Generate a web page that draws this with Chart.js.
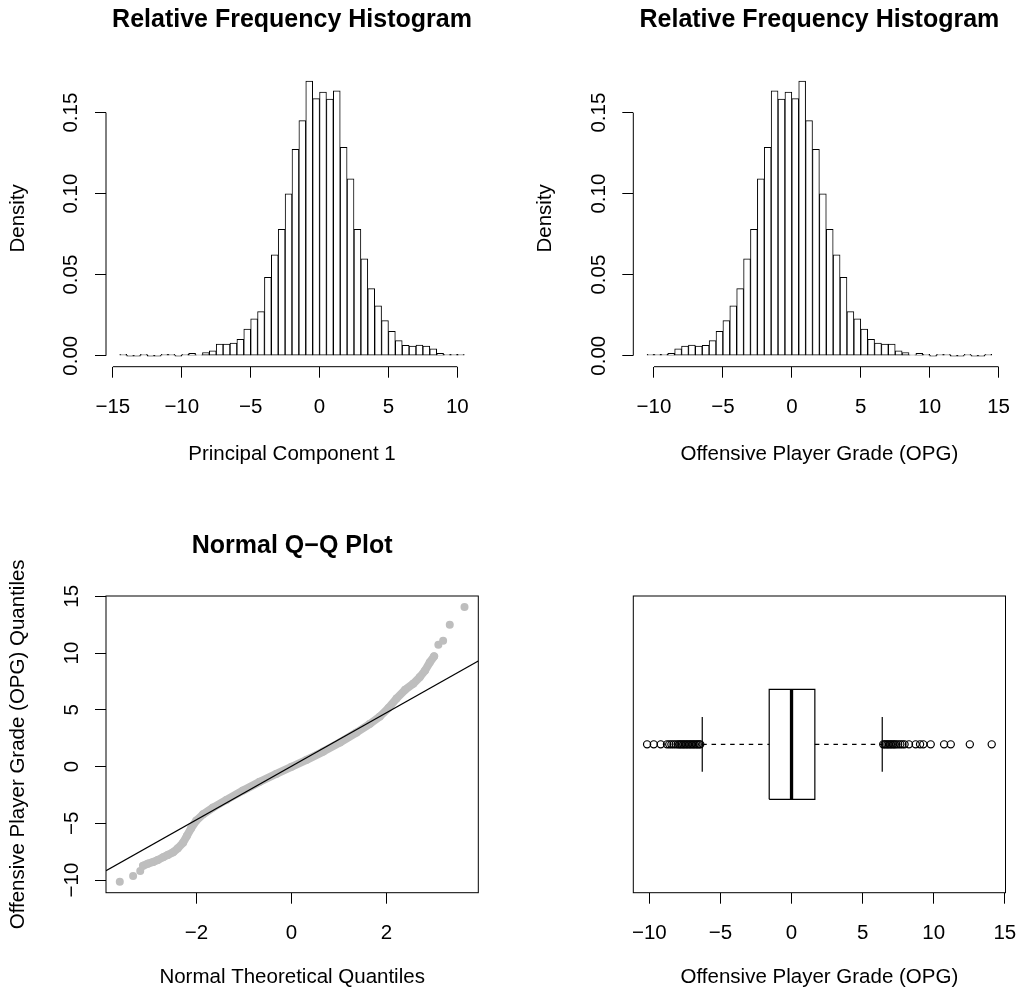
<!DOCTYPE html>
<html>
<head>
<meta charset="utf-8">
<script src="https://cdn.jsdelivr.net/npm/chart.js@4.4.1/dist/chart.umd.min.js"></script>
<style>
  html, body { margin: 0; padding: 0; background: #fff; }
  body { width: 1018px; height: 997px; position: relative; overflow: hidden; }
  canvas { position: absolute; }
</style>
</head>
<body>
<canvas id="pc1Hist" width="509" height="498" style="left:0;top:0"></canvas>
<canvas id="opgHist" width="509" height="498" style="left:509px;top:0"></canvas>
<canvas id="opgQQ" width="509" height="499" style="left:0;top:498px"></canvas>
<canvas id="opgBox" width="509" height="499" style="left:509px;top:498px"></canvas>
<script>
// histogram bins (width 0.5)
const binWidth = 0.5;
const pc1Start = -14.5;
const pc1Density = [
  0.0008, 0, 0, 0.0008, 0, 0, 0.0008, 0.0008, 0, 0.0008,
  0.0014, 0.0004, 0.002, 0.003, 0.0072, 0.0072, 0.0078, 0.0101, 0.0165, 0.0227,
  0.0272, 0.0484, 0.0622, 0.078, 0.0999, 0.1273, 0.145, 0.1695, 0.1586, 0.1627,
  0.1584, 0.1634, 0.1285, 0.1092, 0.078, 0.0597, 0.0414, 0.0307, 0.0216, 0.015,
  0.0093, 0.0064, 0.006, 0.0066, 0.006, 0.0043, 0.0014, 0.0008, 0.0008, 0.0008
];
const opgStart = -10.5;
const opgDensity = [
  0.0008, 0.0008, 0.0008, 0.0014, 0.0043, 0.006, 0.0066, 0.006, 0.0064, 0.0093,
  0.015, 0.0216, 0.0307, 0.0414, 0.0597, 0.078, 0.1092, 0.1285, 0.1634, 0.1584,
  0.1627, 0.1586, 0.1695, 0.145, 0.1273, 0.0999, 0.078, 0.0622, 0.0484, 0.0272,
  0.0227, 0.0165, 0.0101, 0.0078, 0.0072, 0.0072, 0.003, 0.002, 0.0004, 0.0014,
  0.0008, 0, 0.0008, 0.0008, 0, 0, 0.0008, 0, 0, 0.0008
];

// normal Q-Q points (dense middle part and the separate tail points)
const qqTheoretical = [-3.12, -3.02, -2.91, -2.81, -2.70, -2.60, -2.49, -2.39, -2.28, -2.20, -2.11, -2.00,
  -1.86, -1.65, -1.37, -1.02, -0.67, -0.32, 0.00, 0.32, 0.67, 1.02, 1.37, 1.65, 1.86, 2.04, 2.21, 2.39,
  2.56, 2.70, 2.81, 2.91, 3.00];
const qqSample = [-8.74, -8.56, -8.41, -8.24, -8.00, -7.79, -7.56, -7.21, -6.71, -6.12, -5.44, -4.76,
  -4.21, -3.62, -2.94, -2.12, -1.35, -0.65, -0.03, 0.59, 1.32, 2.12, 3.00, 3.76, 4.41, 5.15, 6.00, 6.76,
  7.29, 7.88, 8.47, 9.18, 9.71];
const qqTailTheoretical = [-3.61, -3.33, -3.18, 3.09, 3.19, 3.33, 3.64];
const qqTailSample = [-10.15, -9.65, -9.21, 10.74, 11.09, 12.5, 14.06];
const qqIntercept = 0.03;
const qqSlope = 2.36;

// boxplot: lower whisker, Q1, median, Q3, upper whisker
const opgBoxStats = [-6.28, -1.57, 0.0, 1.64, 6.38];
const opgOutliers = [-10.16, -9.69, -9.2, -8.76, -8.6, -8.45, -8.3, -8.15, -8.0, -7.9, -7.8, -7.7,
  -7.6, -7.5, -7.4, -7.3, -7.2, -7.1, -7.0, -6.9, -6.8, -6.7, -6.6, -6.5, -6.42,
  6.45, 6.55, 6.65, 6.75, 6.85, 6.95, 7.05, 7.15, 7.25, 7.35, 7.5, 7.65, 7.8, 7.95,
  8.26, 8.73, 9.04, 9.27, 9.79, 10.73, 11.2, 12.54, 14.08];

// tick labels
const pc1Ticks = [-15, -10, -5, 0, 5, 10];
const opgTicks = [-10, -5, 0, 5, 10, 15];
const densityTicks = [0, 0.05, 0.10, 0.15];
const normTicks = [-2, 0, 2];
const qqYTicks = [-10, -5, 0, 5, 10, 15];

Chart.defaults.font.family = 'Liberation Sans';
Chart.defaults.font.size = 20.5;
Chart.defaults.color = '#000';
Chart.defaults.animation = false;
Chart.defaults.plugins.legend.display = false;
Chart.defaults.plugins.tooltip.enabled = false;

const minus = v => String(v).replace('-', '\u2212');
const rRange = (lo, hi) => { const d = (hi - lo) * 0.04; return [lo - d, hi + d]; };

// R style axes: line only from first to last tick, or a full box
const rAxes = {
  id: 'rAxes',
  afterDraw(chart, args, opts) {
    const {ctx, chartArea: a} = chart;
    ctx.save();
    ctx.strokeStyle = '#000';
    ctx.lineWidth = 1;
    if (opts.box) ctx.strokeRect(a.left, a.top, a.right - a.left, a.bottom - a.top);
    (opts.axes || []).forEach(id => {
      const s = chart.scales[id];
      const p0 = s.getPixelForValue(s.ticks[0].value);
      const p1 = s.getPixelForValue(s.ticks[s.ticks.length - 1].value);
      ctx.beginPath();
      if (s.isHorizontal()) { ctx.moveTo(p0, a.bottom); ctx.lineTo(p1, a.bottom); }
      else { ctx.moveTo(a.left, p0); ctx.lineTo(a.left, p1); }
      ctx.stroke();
    });
    ctx.restore();
  }
};

const tickGrid = {display: true, drawOnChartArea: false, drawTicks: true, tickLength: 11,
  tickColor: '#000', tickWidth: 1, offset: false};

function xAxis(range, ticks, title, height, titlePad) {
  return {
    type: 'linear', position: 'bottom', min: range[0], max: range[1], bounds: 'data', offset: false,
    afterBuildTicks: s => { s.ticks = ticks.map(v => ({value: v})); },
    afterFit: s => { s.height = height; s.paddingLeft = 0; s.paddingRight = 0; },
    border: {display: false},
    grid: tickGrid,
    ticks: {autoSkip: false, minRotation: 0, maxRotation: 0, padding: 17.3, callback: v => minus(v)},
    title: {display: true, text: title, padding: {top: 0, bottom: titlePad}}
  };
}

function yAxis(range, ticks, fmt, title, width, tickPad, titlePad) {
  return {
    type: 'linear', position: 'left', min: range[0], max: range[1], bounds: 'data',
    afterBuildTicks: s => { s.ticks = ticks.map(v => ({value: v})); },
    afterFit: s => { s.width = width; s.paddingTop = 0; s.paddingBottom = 0; },
    border: {display: false},
    grid: tickGrid,
    ticks: {autoSkip: false, minRotation: 90, maxRotation: 90, crossAlign: 'center', padding: tickPad, callback: fmt},
    title: {display: true, text: title, padding: {top: titlePad, bottom: 0}}
  };
}

function mainTitle(text, top, bottom) {
  return {display: true, text: text, fullSize: false, color: '#000',
    font: {size: 25, weight: 'bold'}, padding: {top: top, bottom: bottom}};
}

function histogram(id, start, density, xTicks, xLabel, left, right) {
  const breaksRange = rRange(start, start + binWidth * density.length);
  new Chart(id, {
    type: 'bar',
    data: {
      datasets: [{
        data: density.map((d, i) => ({x: start + binWidth * (i + 0.5), y: d})),
        backgroundColor: '#fff', borderColor: '#000', borderWidth: 1, borderSkipped: false,
        barPercentage: 1, categoryPercentage: 1, minBarLength: 1
      }]
    },
    options: {
      responsive: false, devicePixelRatio: 1,
      layout: {padding: {left: 0, right: 509 - right, top: 0, bottom: 0}},
      plugins: {title: mainTitle('Relative Frequency Histogram', 5, 35), rAxes: {axes: ['x', 'y']}},
      scales: {
        x: xAxis(breaksRange, xTicks, xLabel, 498 - 366.7, 31),
        y: yAxis(rRange(0, Math.max(...density)), densityTicks, v => v.toFixed(2), 'Density', left, 3.4, left - 100)
      }
    },
    plugins: [rAxes]
  });
}

histogram('pc1Hist', pc1Start, pc1Density, pc1Ticks, 'Principal Component 1', 106, 478);
histogram('opgHist', opgStart, opgDensity, opgTicks, 'Offensive Player Grade (OPG)', 124.3, 496.5);

// Normal Q-Q plot
const qqX = rRange(Math.min(...qqTailTheoretical), Math.max(...qqTailTheoretical));
const qqY = rRange(Math.min(...qqTailSample), Math.max(...qqTailSample));
new Chart('opgQQ', {
  type: 'scatter',
  data: {
    datasets: [
      {
        data: qqX.map(x => ({x: x, y: qqIntercept + qqSlope * x})),
        showLine: true, borderColor: '#000', borderWidth: 1.3, pointRadius: 0
      },
      {
        data: qqTheoretical.map((x, i) => ({x: x, y: qqSample[i]})),
        showLine: true, borderColor: '#bebebe', borderWidth: 8, borderCapStyle: 'round', borderJoinStyle: 'round',
        pointRadius: 4, pointBackgroundColor: '#bebebe', pointBorderWidth: 0
      },
      {
        data: qqTailTheoretical.map((x, i) => ({x: x, y: qqTailSample[i]})),
        pointRadius: 4, pointBackgroundColor: '#bebebe', pointBorderWidth: 0
      }
    ]
  },
  options: {
    responsive: false, devicePixelRatio: 1,
    layout: {padding: {left: 0, right: 509 - 478.3, top: 0, bottom: 0}},
    plugins: {title: mainTitle('Normal Q\u2212Q Plot', 33, 35), rAxes: {box: true}},
    scales: {
      x: xAxis(qqX, normTicks, 'Normal Theoretical Quantiles', 499 - 394.7, 7.7),
      y: yAxis(qqY, qqYTicks, v => minus(v), 'Offensive Player Grade (OPG) Quantiles', 106, 5.1, 6)
    }
  },
  plugins: [rAxes]
});

// horizontal boxplot
const [wLo, q1, med, q3, wHi] = opgBoxStats;
const boxHalf = 0.2, capHalf = 0.1;
const seg = (x0, y0, x1, y1) => [{x: x0, y: y0}, {x: x1, y: y1}];
const lineStyle = {showLine: true, borderColor: '#000', borderWidth: 1.2, pointRadius: 0};
new Chart('opgBox', {
  type: 'scatter',
  data: {
    datasets: [
      {...lineStyle, borderWidth: 3.3, data: seg(med, 1 - boxHalf, med, 1 + boxHalf)},
      {...lineStyle, data: [{x: q1, y: 1 - boxHalf}, {x: q3, y: 1 - boxHalf}, {x: q3, y: 1 + boxHalf},
        {x: q1, y: 1 + boxHalf}, {x: q1, y: 1 - boxHalf}]},
      {...lineStyle, borderDash: [4.5, 4.8], data: seg(wLo, 1, q1, 1)},
      {...lineStyle, borderDash: [4.5, 4.8], data: seg(q3, 1, wHi, 1)},
      {...lineStyle, data: seg(wLo, 1 - capHalf, wLo, 1 + capHalf)},
      {...lineStyle, data: seg(wHi, 1 - capHalf, wHi, 1 + capHalf)},
      {
        data: opgOutliers.map(v => ({x: v, y: 1})),
        pointRadius: 3.6, pointBorderWidth: 1.2, pointBorderColor: '#000', pointBackgroundColor: 'rgba(0,0,0,0)'
      }
    ]
  },
  options: {
    responsive: false, devicePixelRatio: 1,
    layout: {padding: {left: 0, right: 509 - 496.5, top: 98, bottom: 0}},
    plugins: {rAxes: {box: true}},
    scales: {
      x: xAxis(rRange(Math.min(...opgOutliers), Math.max(...opgOutliers)), opgTicks,
        'Offensive Player Grade (OPG)', 499 - 394.7, 7.7),
      y: {
        type: 'linear', min: 0.46, max: 1.54,
        afterFit: s => { s.width = 124.3; s.paddingTop = 0; s.paddingBottom = 0; },
        border: {display: false}, grid: {display: false}, ticks: {display: false}
      }
    }
  },
  plugins: [rAxes]
});
</script>
</body>
</html>
